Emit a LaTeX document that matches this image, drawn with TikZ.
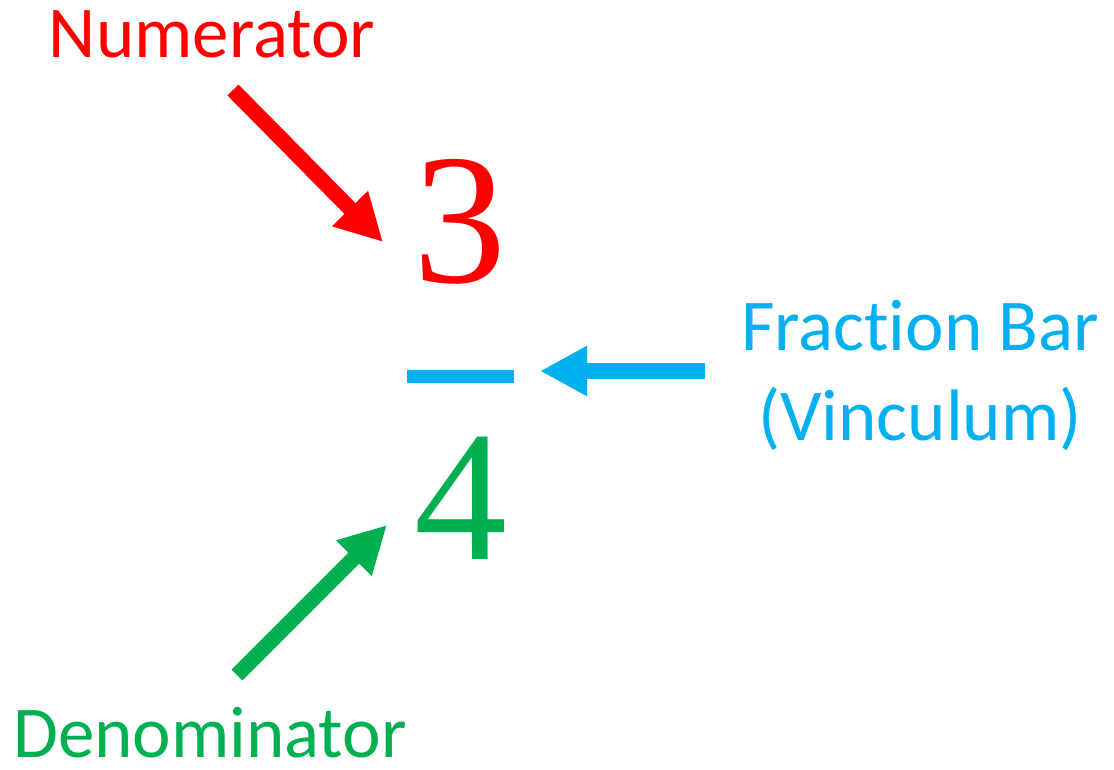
\documentclass[tikz,border=0pt]{standalone}
\usepackage{fontspec}
\setmainfont{Carlito}[Ligatures=NoCommon]
\newfontfamily\digitfont{Liberation Serif}
\usetikzlibrary{arrows.meta}
\definecolor{numred}{HTML}{FF0000}
\definecolor{barblue}{HTML}{00B0F0}
\definecolor{dengreen}{HTML}{00B050}
\tikzset{
  label text/.style={inner sep=0pt, anchor=base, text depth=0pt,
    font=\fontsize{73}{90}\selectfont, align=center},
  digit/.style={inner sep=0pt, anchor=base, font=\digitfont\fontsize{186}{186}\selectfont},
  fat arrow/.style={line width=15.5pt, line cap=butt,
    -{Triangle[length=47pt, width=47pt]}},
}
\begin{document}
\begin{tikzpicture}[x=1pt, y=-1pt]
  \useasboundingbox (0,0) rectangle (1114,770);

  % the fraction
  \node[digit, text=numred] (three) at (459.5,282) {3};
  \node[fill=barblue, inner sep=0pt, minimum width=107pt, minimum height=13pt] (bar) at (460.5,376.5) {};
  \node[digit, text=dengreen] (four) at (461,559) {4};

  % labels
  \node[label text, text=numred] (numlabel) at (212,58) {Numerator};
  \node[label text, text=barblue] (barlabel) at (920,350) {Fraction Bar};
  \node[label text, text=barblue] (vinlabel) at (920,440) {(Vinculum)};
  \node[label text, text=dengreen] (denlabel) at (210,757) {Denominator};

  % arrow end points
  \coordinate (numtail) at (233,90);
  \coordinate (numtip) at (383,242);
  \coordinate (bartail) at (705,371);
  \coordinate (bartip) at (540,371);
  \coordinate (dentail) at (237,675);
  \coordinate (dentip) at (387,525);

  % arrows
  \draw[fat arrow, draw=numred, fill=numred] (numtail) -- (numtip);
  \draw[fat arrow, draw=barblue, fill=barblue] (bartail) -- (bartip);
  \draw[fat arrow, draw=dengreen, fill=dengreen] (dentail) -- (dentip);
\end{tikzpicture}
\end{document}
